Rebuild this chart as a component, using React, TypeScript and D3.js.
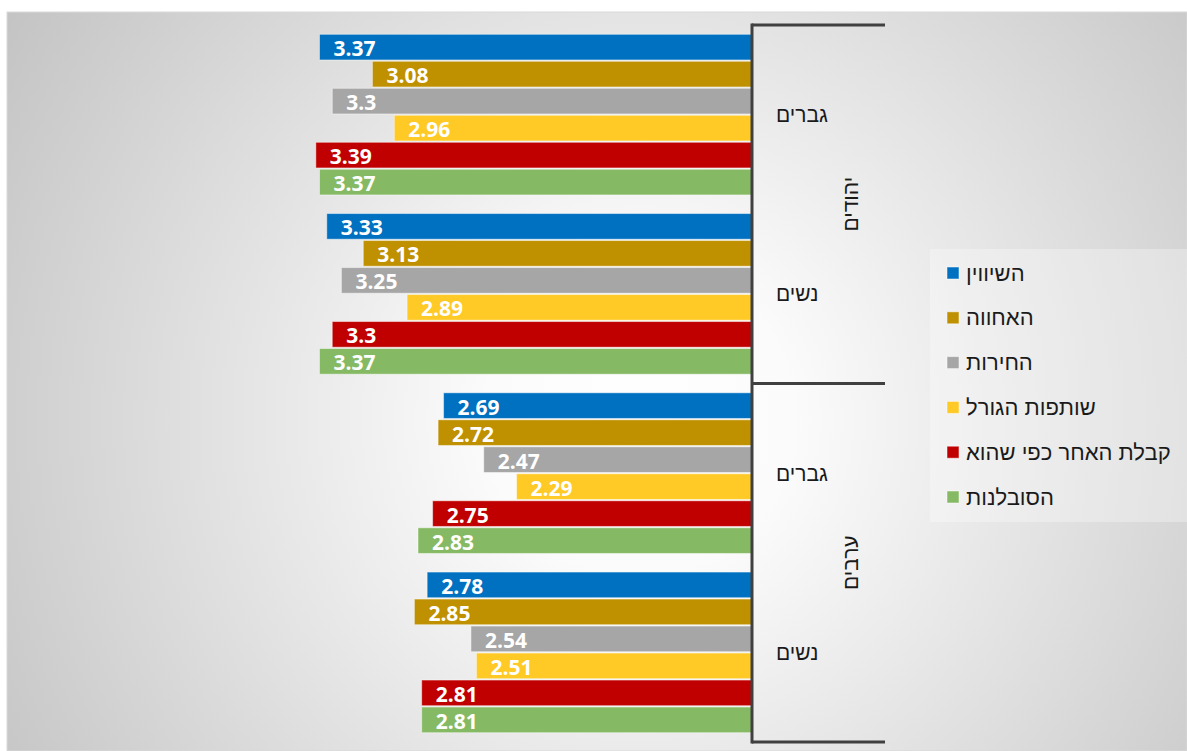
import * as d3 from 'd3'
import { type ReactElement } from 'react'

const groups = ['יהודים', 'ערבים']
const genders = ['גברים', 'נשים']
const seriesNames = ['השיווין', 'האחווה', 'החירות', 'שותפות הגורל', 'קבלת האחר כפי שהוא', 'הסובלנות']
const seriesColors = ['#0070C0', '#BF9000', '#A6A6A6', '#FFC926', '#C00000', '#86B963']

// values per series, in order: Jews-men, Jews-women, Arabs-men, Arabs-women
const equality = [3.37, 3.33, 2.69, 2.78]
const fraternity = [3.08, 3.13, 2.72, 2.85]
const freedom = [3.3, 3.25, 2.47, 2.54]
const sharedFate = [2.96, 2.89, 2.29, 2.51]
const acceptance = [3.39, 3.3, 2.75, 2.81]
const tolerance = [3.37, 3.37, 2.83, 2.81]
const seriesValues = [equality, fraternity, freedom, sharedFate, acceptance, tolerance]

const width = 1187
const height = 751
const axisX = 752
const hebrewFont = '"Liberation Sans", Arial, sans-serif'

export default function App(): ReactElement {
  const x = d3.scaleLinear().domain([1, 5]).range([axisX, axisX - 4 * 182.5])
  const yGroup = d3.scaleBand<string>().domain(groups).range([25, 742])
  const yGender = d3.scaleBand<string>().domain(genders).range([0, yGroup.bandwidth()])
  const ySeries = d3
    .scaleBand<string>()
    .domain(seriesNames)
    .range([0, yGender.bandwidth()])
    .paddingInner(0.05)
    .paddingOuter(0.345)

  const rows = groups.flatMap((g, gi) =>
    genders.map((s, si) => ({ group: g, gender: s, idx: gi * genders.length + si, y0: yGroup(g)! + yGender(s)! })),
  )
  const boundaries = [...groups.map((g) => yGroup(g)!), yGroup.range()[1]]

  return (
    <div style={{ position: 'absolute', left: 0, top: 0 }}>
      <svg width={width} height={height} style={{ display: 'block', background: '#fff' }}>
        <defs>
          <radialGradient id="bg" gradientUnits="userSpaceOnUse" cx={640} cy={420} r={770}>
            <stop offset="0" stopColor="#ffffff" />
            <stop offset="0.2" stopColor="#fbfbfb" />
            <stop offset="1" stopColor="#c2c2c2" />
          </radialGradient>
        </defs>
        <rect x={7} y={12} width={width - 7} height={height - 12} fill="url(#bg)" stroke="#d9d9d9" strokeWidth={1} />

        {rows.map((r) =>
          seriesNames.map((name, k) => {
            const v = seriesValues[k][r.idx]
            const y = r.y0 + ySeries(name)!
            const left = x(v)
            return (
              <g key={`${r.idx}-${k}`}>
                <rect
                  x={left}
                  y={y}
                  width={axisX - left}
                  height={ySeries.bandwidth()}
                  fill={seriesColors[k]}
                  stroke="#ffffff"
                  strokeOpacity={0.45}
                  strokeWidth={1}
                />
                <text
                  x={left + 14}
                  y={y + ySeries.bandwidth() / 2 + 1}
                  dominantBaseline="central"
                  fill="#ffffff"
                  fontFamily='"Open Sans", sans-serif'
                  fontWeight="bold"
                  fontSize={21}
                >
                  {String(v)}
                </text>
              </g>
            )
          }),
        )}

        {/* category axis */}
        <line x1={axisX} x2={axisX} y1={boundaries[0] - 1.5} y2={boundaries[2] + 1.5} stroke="#404040" strokeWidth={3} />
        {boundaries.map((b, i) => (
          <line key={i} x1={axisX} x2={885} y1={b} y2={b} stroke="#404040" strokeWidth={3} />
        ))}
        {rows.map((r) => (
          <text
            key={`l-${r.idx}`}
            x={776}
            y={r.y0 + yGender.bandwidth() / 2}
            dominantBaseline="central"
            fontFamily={hebrewFont}
            fontSize={21}
            fill="#1a1a1a"
          >
            {r.gender}
          </text>
        ))}
        {groups.map((g) => {
          const cy = yGroup(g)! + yGroup.bandwidth() / 2
          return (
            <text
              key={g}
              transform={`translate(850,${cy}) rotate(-90)`}
              textAnchor="middle"
              dominantBaseline="central"
              fontFamily={hebrewFont}
              fontSize={21}
              fill="#1a1a1a"
            >
              {g}
            </text>
          )
        })}

        {/* legend */}
        <rect x={930} y={249} width={257} height={273} fill="#ffffff" fillOpacity={0.3} />
        {seriesNames.map((name, k) => {
          const cy = 273 + k * 44.8
          return (
            <g key={name}>
              <rect x={947} y={cy - 6} width={12} height={12} fill={seriesColors[k]} stroke="#ffffff" strokeOpacity={0.5} />
              <text x={966} y={cy} dominantBaseline="central" fontFamily={hebrewFont} fontSize={22} fill="#1a1a1a">
                {name}
              </text>
            </g>
          )
        })}
      </svg>
    </div>
  )
}
